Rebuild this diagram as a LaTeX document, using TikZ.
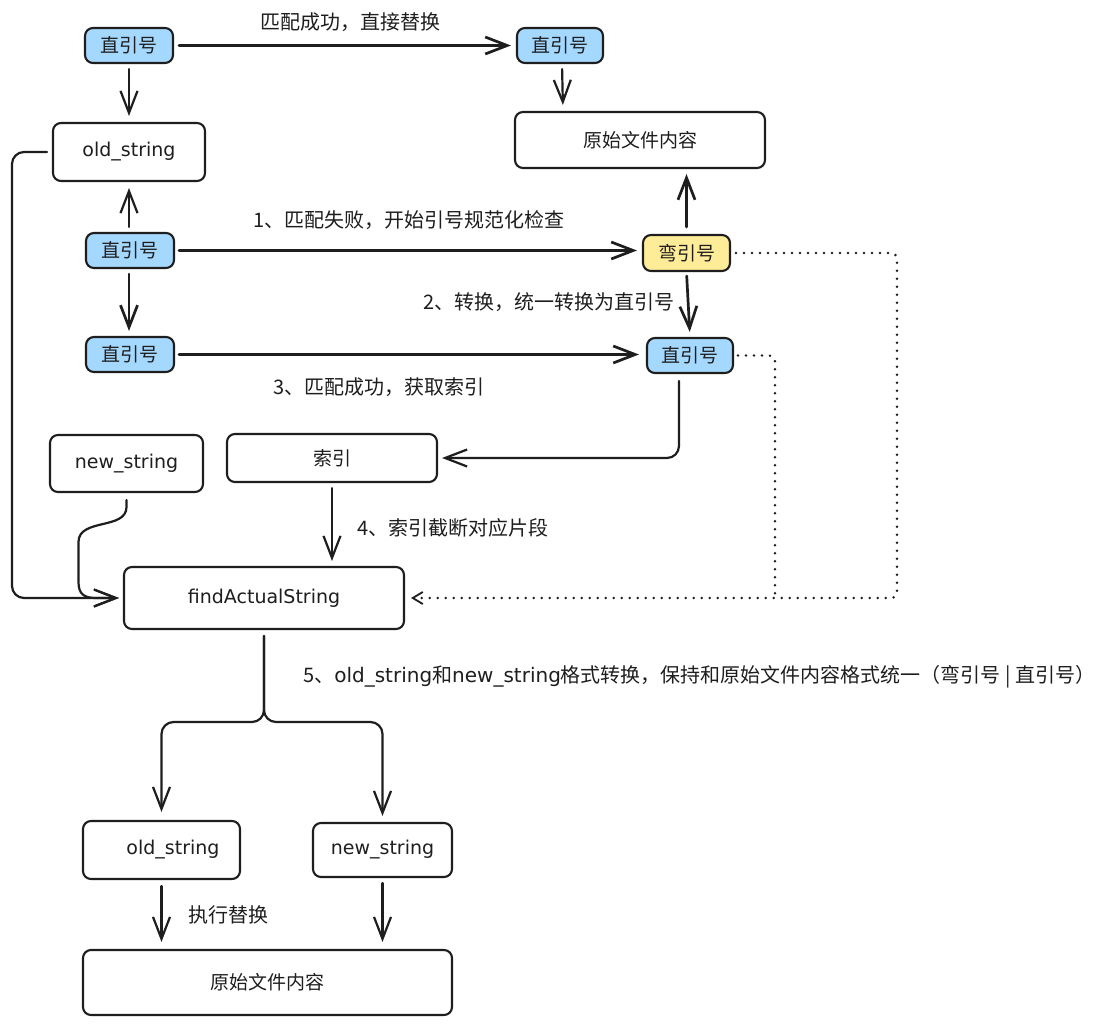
\documentclass[tikz,border=0pt]{standalone}
\usepackage{fontspec}
\setmainfont{Noto Sans CJK SC}
\newfontfamily\lat{DejaVu Sans}
\usetikzlibrary{arrows.meta,calc}
\definecolor{ink}{HTML}{1E1E1E}
\definecolor{qblue}{HTML}{A5D8FF}
\definecolor{qyellow}{HTML}{FFEC99}
\tikzset{
  box/.style={draw=ink, line width=2.1pt, rounded corners=8pt, inner sep=0pt, align=center, text=ink, font=\fontsize{19}{22}\selectfont},
  bluebox/.style={box, fill=qblue},
  yellowbox/.style={box, fill=qyellow},
  conn/.style={draw=ink, line width=2.2pt, line cap=round, line join=round},
  arr/.style={conn, -{Straight Barb[length=22pt,width=17pt]}},
  thickarr/.style={arr, line width=2.7pt},
  dotl/.style={draw=ink, line width=2.8pt, line cap=round, dash pattern=on 0pt off 8pt},
  lbl/.style={text=ink, font=\fontsize{20}{24}\selectfont, inner sep=0pt}
}
\begin{document}
\begin{tikzpicture}[x=1pt,y=-1pt]
\useasboundingbox[fill=white] (0,0) rectangle (1110,1025);

% nodes
\node[bluebox, minimum width=88pt, minimum height=35pt] (a1) at (129,45.5) {直引号};
\node[bluebox, minimum width=86pt, minimum height=35pt] (a2) at (560,45.5) {直引号};
\node[box, minimum width=152pt, minimum height=58pt] (old1) at (129,152) {\lat old\_string};
\node[box, minimum width=250pt, minimum height=56pt] (orig1) at (640,140) {原始文件内容};
\node[bluebox, minimum width=88pt, minimum height=35pt] (b1) at (130,250.5) {直引号};
\node[yellowbox, minimum width=87pt, minimum height=36pt] (curl) at (686.5,253) {弯引号};
\node[bluebox, minimum width=88pt, minimum height=35pt] (c1) at (130,354.5) {直引号};
\node[bluebox, minimum width=86pt, minimum height=35pt] (c2) at (690,355.5) {直引号};
\node[box, minimum width=153pt, minimum height=57pt] (new1) at (126.5,463.5) {\lat new\_string};
\node[box, minimum width=210pt, minimum height=48pt] (idx) at (332,458) {索引};
\node[box, minimum width=280pt, minimum height=62pt] (find) at (264,598) {\lat findActualString};
\node[box, minimum width=157pt, minimum height=58pt] (old2) at (161.5,850) {\hspace*{23pt}\lat old\_string};
\node[box, minimum width=139pt, minimum height=54pt] (new2) at (382.5,850) {\lat new\_string};
\node[box, minimum width=369pt, minimum height=65pt] (orig2) at (267.5,982.5) {原始文件内容};

% labels
\node[lbl, anchor=west] (t0) at (260,22) {匹配成功，直接替换};
\node[lbl, anchor=west] (t1) at (253,220) {1、匹配失败，开始引号规范化检查};
\node[lbl, anchor=east] (t2) at (675,302) {2、转换，统一转换为直引号};
\node[lbl, anchor=west] (t3) at (273,387) {3、匹配成功，获取索引};
\node[lbl, anchor=west] (t4) at (357,528) {4、索引截断对应片段};
\node[lbl, anchor=west] (t5) at (303,677) {5、{\lat old\_string}和{\lat new\_string}格式转换，保持和原始文件内容格式统一（弯引号 | 直引号）};
\node[lbl, anchor=west] (t6) at (188,915) {执行替换};

% connectors
\draw[thickarr, shorten <=5pt, shorten >=5pt] (a1.east) -- (a1.east -| a2.west);
\draw[arr, shorten <=5pt, shorten >=6pt] (a1.south) -- (a1.south |- old1.north);
\draw[arr, shorten <=5pt, shorten >=6pt] ([xshift=2pt]a2.south) -- ([xshift=3pt]a2.south |- orig1.north);
\draw[arr, shorten <=5pt, shorten >=6pt] ([xshift=-1pt]b1.north) -- ([xshift=-1pt]b1.north |- old1.south);
\draw[thickarr, shorten <=4pt, shorten >=5pt] (b1.east) -- (b1.east -| curl.west);
\draw[thickarr, shorten <=5pt, shorten >=5pt] ([xshift=-1pt]b1.south) -- ([xshift=-1pt]b1.south |- c1.north);
\draw[thickarr, shorten <=7pt, shorten >=5pt] (curl.north) -- (curl.north |- orig1.south);
\draw[thickarr, shorten <=4pt, shorten >=5pt] (curl.south) -- (c2.north);
\draw[thickarr, shorten <=4pt, shorten >=7pt] (c1.east) -- (c1.east -| c2.west);
\draw[arr, rounded corners=12pt] ([xshift=-11pt,yshift=-7pt]c2.south) |- ([xshift=4pt]idx.east);
\draw[arr, shorten <=5pt, shorten >=5pt] (idx.south) -- (idx.south |- find.north);

\coordinate (lft) at (12,598);
\draw[arr, rounded corners=12pt] ([xshift=-5pt]old1.west) -| (lft) -- ([xshift=-4pt]find.west);
\draw[arr] ([yshift=-7pt]new1.south) -- (126.5,507) .. controls (126.5,530) and (78.5,518) .. (78.5,542) -- (78.5,582) .. controls (78.5,594) and (84,598) .. (96,598) -- ([xshift=-4pt]find.west);

\coordinate (r1) at (897,598);
\coordinate (r2) at (775,598);
\draw[dotl, rounded corners=6pt, -{Straight Barb[length=10pt,width=12pt,line width=1.8pt]}] ([xshift=5pt]curl.east) -| (r1) -- ([xshift=6pt]find.east);
\draw[dotl, rounded corners=6pt] ([xshift=4pt]c2.east) -| (r2);

\coordinate (jn) at (264,722);
\draw[arr, rounded corners=12pt] ([yshift=-6pt]find.south) -- (jn) -| ([yshift=8pt]old2.north);
\draw[arr, rounded corners=12pt] ([yshift=-6pt]find.south) -- (jn) -| ([yshift=6pt]new2.north);
\draw[arr, shorten <=6pt, shorten >=7pt] (old2.south) -- (old2.south |- orig2.north);
\draw[arr, shorten <=5pt, shorten >=7pt] (new2.south) -- (new2.south |- orig2.north);
\end{tikzpicture}
\end{document}
